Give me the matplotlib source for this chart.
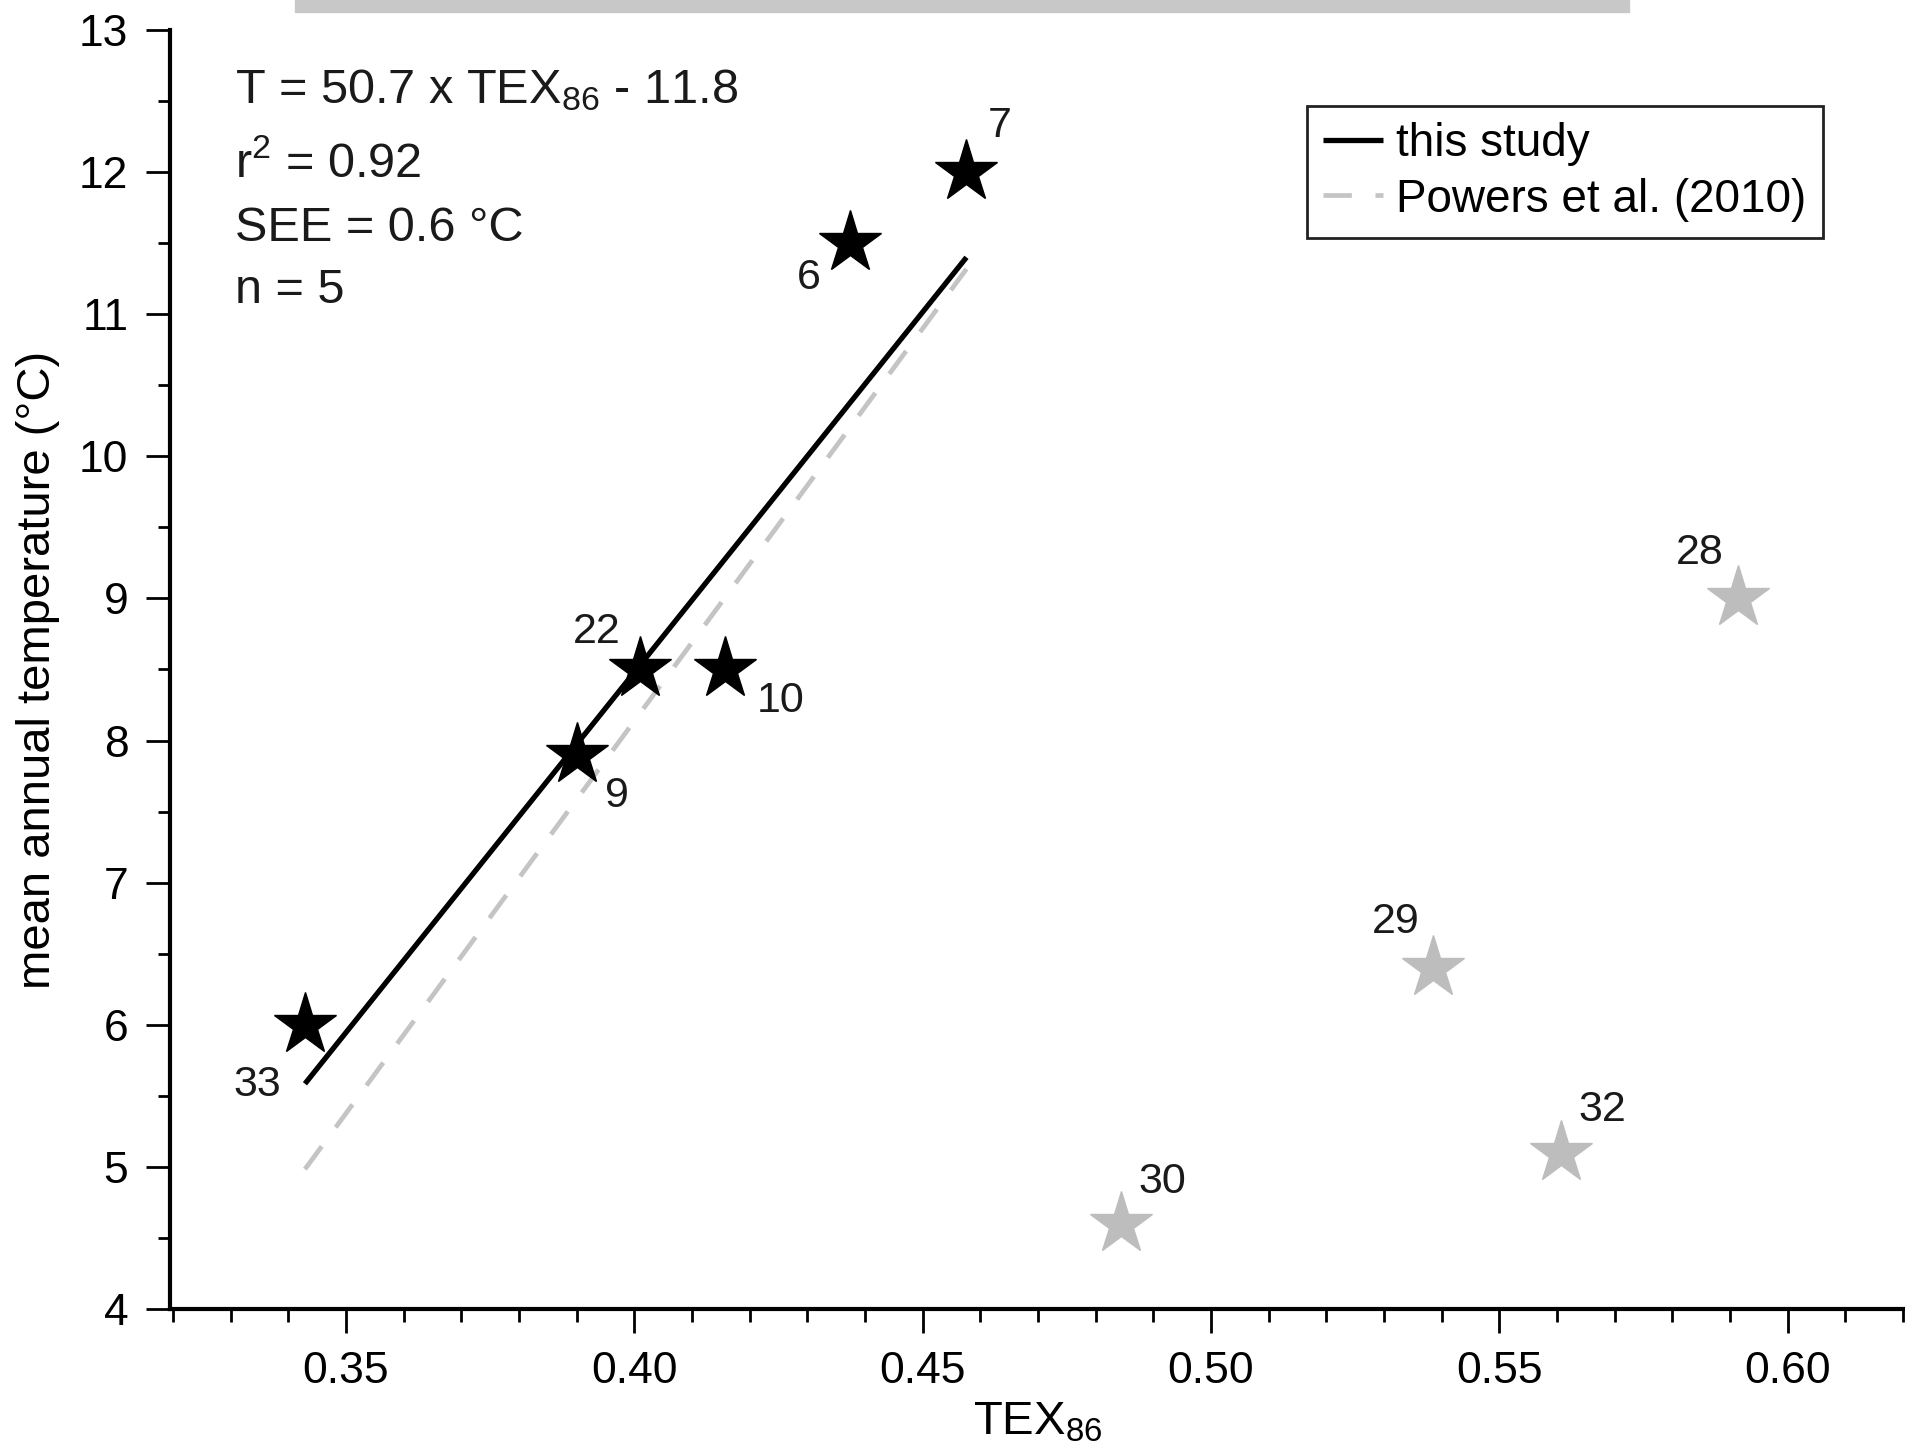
import matplotlib

matplotlib.use("Agg")
import matplotlib.pyplot as plt
from matplotlib.patches import Rectangle
from matplotlib.ticker import FormatStrFormatter, MultipleLocator

plt.rcParams["font.family"] = ["Liberation Sans", "DejaVu Sans"]
plt.rcParams["mathtext.fontset"] = "custom"
plt.rcParams["mathtext.rm"] = "Liberation Sans"
plt.rcParams["mathtext.it"] = "Liberation Sans:italic"
plt.rcParams["mathtext.default"] = "rm"

# calibration sites (this study)
study_ids = ["33", "9", "22", "10", "6", "7"]
study_tex = [0.3429, 0.390, 0.401, 0.4157, 0.4374, 0.4575]
study_mat = [6.0, 7.9, 8.5, 8.5, 11.5, 12.0]
study_offsets = [(-34, -43), (29, -30), (-31, 27), (40, -23), (-30, -25), (24, 33)]

# other sites (grey)
other_ids = ["30", "29", "32", "28"]
other_tex = [0.4844, 0.5385, 0.5606, 0.5913]
other_mat = [4.6, 6.4, 5.1, 9.0]
other_offsets = [(30, 30), (-27, 33), (30, 31), (-27, 33)]

# regression lines: slope, intercept, x range
this_fit = (50.7, -11.8)
powers_fit = (55.231, -13.955)
fit_range = [0.3429, 0.4576]

stats_lines = [
    "T = 50.7 x TEX$_{86}$ - 11.8",
    "r$^{2}$ = 0.92",
    "SEE = 0.6 °C",
    "n = 5",
]

fig = plt.figure(figsize=(19.06, 14.53), dpi=100)
ax = fig.add_axes([170 / 1906, 144 / 1453, 1736 / 1906, 1279 / 1453])

grey = "#bdbdbd"
ys_this = [this_fit[0] * x + this_fit[1] for x in fit_range]
ys_pow = [powers_fit[0] * x + powers_fit[1] for x in fit_range]
ax.plot(fit_range, ys_this, color="black", lw=3.8, solid_capstyle="butt",
        label="this study", zorder=3)
ax.plot(fit_range, ys_pow, color="#c4c4c4", lw=3.4, dashes=(6, 5),
        label="Powers et al. (2010)", zorder=2)

ax.plot(study_tex, study_mat, ls="none", marker="*", ms=47, color="black",
        mec="black", zorder=4)
ax.plot(other_tex, other_mat, ls="none", marker="*", ms=47, color=grey,
        mec=grey, zorder=4)

for lab, x, y, off in zip(study_ids, study_tex, study_mat, study_offsets):
    ax.annotate(lab, (x, y), xytext=off, textcoords="offset points",
                ha="center", va="center", fontsize=31, color="#1a1a1a")
for lab, x, y, off in zip(other_ids, other_tex, other_mat, other_offsets):
    ax.annotate(lab, (x, y), xytext=off, textcoords="offset points",
                ha="center", va="center", fontsize=31, color="#1a1a1a")

ypos = [0.953, 0.895, 0.845, 0.796]
for line, yy in zip(stats_lines, ypos):
    ax.text(0.0374, yy, line, transform=ax.transAxes, fontsize=35,
            ha="left", va="center", color="#1a1a1a")

ax.set_xlim(0.3195, 0.6205)
ax.set_ylim(4, 13)
ax.xaxis.set_major_locator(MultipleLocator(0.05))
ax.xaxis.set_minor_locator(MultipleLocator(0.01))
ax.xaxis.set_major_formatter(FormatStrFormatter("%.2f"))
ax.yaxis.set_major_locator(MultipleLocator(1))
ax.yaxis.set_minor_locator(MultipleLocator(0.5))
ax.tick_params(which="major", direction="out", length=17, width=2, labelsize=32,
               pad=13)
ax.tick_params(which="minor", direction="out", length=9, width=2)

for s in ["top", "right"]:
    ax.spines[s].set_visible(False)
for s in ["left", "bottom"]:
    ax.spines[s].set_linewidth(3)

ax.set_xlabel("TEX$_{86}$", fontsize=34, labelpad=6)
ax.set_ylabel("mean annual temperature (°C)", fontsize=34, labelpad=14)

leg = ax.legend(loc="upper left", bbox_to_anchor=(1307 / 1906, 1 - 106 / 1453),
                bbox_transform=fig.transFigure, borderaxespad=0, fontsize=33,
                handlelength=1.3, handletextpad=0.3, borderpad=0.35,
                labelspacing=0.25, fancybox=False, framealpha=1)
leg.get_frame().set_edgecolor("#222222")
leg.get_frame().set_linewidth(2)

# cropped caption bar at the top edge
fig.patches.append(Rectangle((295 / 1906, 1 - 12 / 1453), 1334 / 1906, 12 / 1453,
                             transform=fig.transFigure, color="#c8c8c8"))

fig.savefig("out.png", dpi=100)
